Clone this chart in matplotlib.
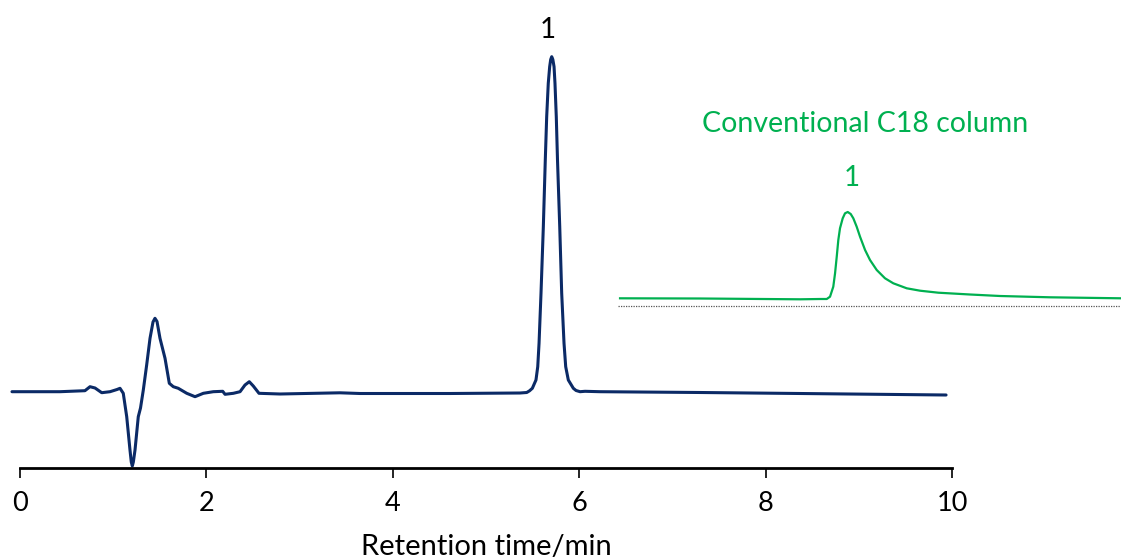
import matplotlib
matplotlib.use("Agg")
import matplotlib.pyplot as plt
import matplotlib.transforms as mtransforms

# ---- data ----
blue_t = [-0.086, 0.429, 0.697, 0.751, 0.805, 0.877, 0.966, 1.041, 1.073, 1.108,
          1.145, 1.180, 1.194, 1.205, 1.216, 1.234, 1.269, 1.293, 1.323, 1.359,
          1.395, 1.427, 1.448, 1.470, 1.502, 1.556, 1.602, 1.645, 1.698, 1.789,
          1.878, 1.967, 2.074, 2.175, 2.200, 2.289, 2.361, 2.414, 2.460, 2.503,
          2.564, 2.790, 3.433, 3.648, 4.614, 5.365, 5.437, 5.467, 5.497, 5.536,
          5.555, 5.569, 5.590, 5.615, 5.636, 5.651, 5.668, 5.683, 5.694, 5.705,
          5.717, 5.730, 5.740, 5.754, 5.767, 5.791, 5.812, 5.837, 5.855, 5.883,
          5.937, 5.966, 6.009, 6.062, 6.223, 7.296, 8.369, 9.936]
blue_v = [0.3, 0.3, 1.3, 5.3, 4.0, -0.7, 0.3, 2.5, 3.7, -1.3,
          -24.7, -58.0, -70.0, -74.0, -70.0, -58.0, -24.7, -16.0, 2.0, 27.0,
          53.7, 70.0, 73.7, 70.5, 53.7, 33.7, 8.7, 5.3, 3.7, -1.3,
          -4.7, -1.3, 0.3, 0.7, -2.3, -1.3, 0.3, 7.0, 10.3, 6.0,
          -1.3, -2.0, -0.8, -1.5, -1.5, -1.0, -0.5, 1.2, 3.7, 12.0,
          25.3, 48.7, 98.7, 165.3, 232.0, 275.3, 308.7, 325.3, 332.5, 335.3,
          332.5, 325.3, 308.7, 275.3, 232.0, 165.3, 98.7, 48.7, 25.3, 12.0,
          3.7, 1.5, 0.3, 0.7, 0.3, -0.5, -1.5, -3.0]

green_t = [6.438, 7.296, 8.369, 8.584, 8.656, 8.691, 8.726, 8.745, 8.763, 8.780,
           8.798, 8.827, 8.852, 8.881, 8.913, 8.941, 8.977, 9.013, 9.067, 9.120,
           9.192, 9.281, 9.370, 9.514, 9.657, 9.853, 10.193, 10.515, 11.052, 11.813]
green_v = [93.7, 93.5, 92.7, 93.0, 93.0, 95.3, 105.3, 118.7, 135.3, 152.0,
           163.7, 173.7, 178.7, 180.0, 178.0, 173.7, 165.3, 155.3, 142.0, 132.0,
           122.0, 113.7, 108.7, 103.7, 101.3, 99.3, 97.5, 96.0, 94.7, 93.7]

green_base_t = [6.416, 11.813]
green_base_v = [86.0, 86.0]

x_ticks = [0, 2, 4, 6, 8, 10]
x_label = "Retention time/min"
green_title = "Conventional C18 column"
peak_label = "1"

BLUE = "#0b2a66"
GREEN = "#00b050"

plt.rcParams['font.family'] = ['Lato', 'DejaVu Sans']

fig = plt.figure(figsize=(11.21, 5.6), dpi=100)
ax = fig.add_axes([0, 0, 1, 1])
ax.set_xlim(-0.2146, 11.813)
ax.set_ylim(-168, 392)

ax.plot(blue_t, blue_v, color=BLUE, lw=2.2, solid_joinstyle='round', solid_capstyle='round')
ax.plot(green_t, green_v, color=GREEN, lw=1.6, solid_joinstyle='round')
ax.plot(green_base_t, green_base_v, color="#555555", lw=0.9, ls=(0, (1, 1)))

ax.text(5.665, 362, peak_label, ha='center', va='center', fontsize=20, color='black')
ax.text(8.927, 214, peak_label, ha='center', va='center', fontsize=20, color=GREEN)
ax.text(9.067, 268, green_title, ha='center', va='center', fontsize=20.5, color=GREEN)

for s in ['top', 'right', 'left']:
    ax.spines[s].set_visible(False)
ax.spines['bottom'].set_position(('data', -76))
ax.spines['bottom'].set_bounds(0, 10)
ax.spines['bottom'].set_linewidth(2.0)
ax.yaxis.set_visible(False)
ax.set_xticks(x_ticks)
ax.set_xticklabels([str(v) for v in x_ticks])
ax.tick_params(axis='x', direction='out', length=7.5, width=1.2, pad=9, labelsize=19.5)
ax.set_xlabel(x_label, fontsize=21)
trans = mtransforms.blended_transform_factory(ax.transData, ax.transAxes)
ax.xaxis.set_label_coords(5.0, 0.046, transform=trans)

fig.savefig("out.png", dpi=100)
